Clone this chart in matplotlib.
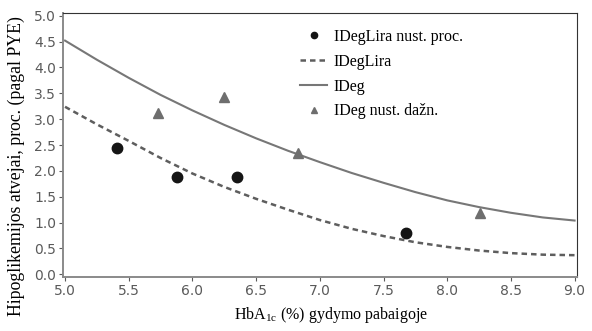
import numpy as np
import matplotlib
matplotlib.use("Agg")
import matplotlib.pyplot as plt

# values
curve_x = [5.0, 5.25, 5.5, 5.75, 6.0, 6.25, 6.5, 6.75, 7.0,
           7.25, 7.5, 7.75, 8.0, 8.25, 8.5, 8.75, 9.0]
ideglira_curve = [3.24, 2.90, 2.58, 2.25, 1.95, 1.69, 1.46, 1.25, 1.05,
                  0.88, 0.74, 0.62, 0.53, 0.46, 0.41, 0.38, 0.37]
ideg_curve = [4.52, 4.15, 3.80, 3.47, 3.17, 2.89, 2.63, 2.39, 2.17,
              1.96, 1.77, 1.59, 1.43, 1.30, 1.19, 1.10, 1.04]

ideglira_x = [5.41, 5.88, 6.35, 7.68]
ideglira_y = [2.44, 1.88, 1.89, 0.79]
ideg_x = [5.73, 6.25, 6.83, 8.26]
ideg_y = [3.12, 3.43, 2.35, 1.19]

xticks = [5.0, 5.5, 6.0, 6.5, 7.0, 7.5, 8.0, 8.5, 9.0]
yticks = [0.0, 0.5, 1.0, 1.5, 2.0, 2.5, 3.0, 3.5, 4.0, 4.5, 5.0]

SERIF = "Liberation Serif"
TICK = "#5a5a5a"

fig = plt.figure(figsize=(5.92, 3.31), dpi=100)
ax = fig.add_axes([63 / 592, 1 - 277 / 331, 514 / 592, 264 / 331])

ax.plot(ideglira_x, ideglira_y, "o", color="#151515", ms=7.5, mec="#151515",
        label="IDegLira nust. proc.", zorder=4)
ax.plot(curve_x, ideglira_curve, "--", color="#5e5e5e", lw=1.8, dashes=(2.2, 1.6),
        label="IDegLira")
ax.plot(curve_x, ideg_curve, "-", color="#777777", lw=1.5, label="IDeg")
ax.plot(ideg_x, ideg_y, "^", color="#6e6e6e", ms=6.5, label="IDeg nust. dažn.", zorder=4)

ax.set_xlim(4.984, 9.019)
ax.set_ylim(-0.052, 5.054)
ax.set_xticks(xticks)
ax.set_yticks(yticks)
ax.set_xticklabels([f"{t:.1f}" for t in xticks])
ax.set_yticklabels([f"{t:.1f}" for t in yticks])
ax.tick_params(colors=TICK, labelsize=10, length=3, width=0.8, pad=2)
for s in ("left", "bottom"):
    ax.spines[s].set_color("#8a8a8a")
    ax.spines[s].set_linewidth(1.4)
for s in ("top", "right"):
    ax.spines[s].set_color("#333333")
    ax.spines[s].set_linewidth(0.8)

ax.set_xlabel("HbA$_{\\mathregular{1c}}$ (%) gydymo pabaigoje", fontfamily=SERIF,
              fontsize=11.5)
ax.xaxis.set_label_coords((331 - 63) / 514, -(305 - 277) / 264, transform=ax.transAxes)
ax.set_ylabel("Hipoglikemijos atvejai, proc. (pagal PYE)", fontfamily=SERIF,
              fontsize=12.8)
ax.yaxis.set_label_coords(-(63 - 25) / 514, (277 - 166) / 264, transform=ax.transAxes)

leg = ax.legend(loc="upper left", bbox_to_anchor=(0.43, 1.0), frameon=False,
                prop={"family": SERIF, "size": 11.5}, handlelength=1.7,
                handletextpad=0.4, labelspacing=0.55, markerscale=0.6,
                borderaxespad=0.6)

fig.savefig("out.png", dpi=100, facecolor="white")
